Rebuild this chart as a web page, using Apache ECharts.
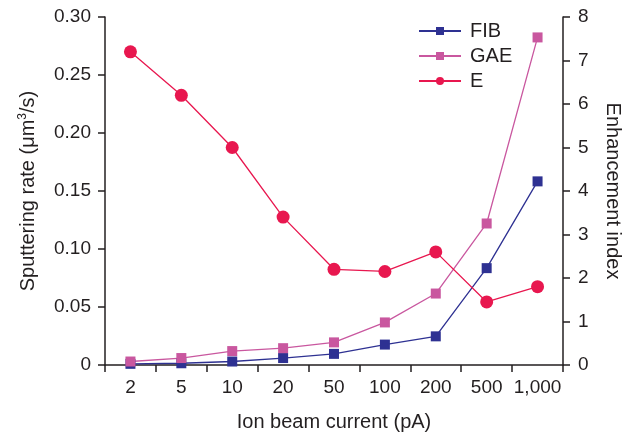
<!DOCTYPE html>
<html>
<head>
<meta charset="utf-8">
<script src="https://cdn.jsdelivr.net/npm/echarts@6/dist/echarts.min.js"></script>
<style>
  html, body { margin: 0; padding: 0; background: #fff; }
  #chart { width: 635px; height: 437px; }
</style>
</head>
<body>
<div id="chart"></div>
<script>
// 数据:离子束电流 vs 溅射速率 / 增强指数
var currents = ['2', '5', '10', '20', '50', '100', '200', '500', '1,000'];
var fibRate = [0.001, 0.0015, 0.003, 0.006, 0.0096, 0.0176, 0.0247, 0.0835, 0.1583];
var gaeRate = [0.003, 0.006, 0.012, 0.0145, 0.0195, 0.0367, 0.0616, 0.122, 0.2824];
var enhance = [7.2, 6.2, 5.0, 3.4, 2.2, 2.15, 2.6, 1.45, 1.8];

var INK = '#231f20';
var FONT = 'Liberation Sans, Arial, sans-serif';

var chart = echarts.init(document.getElementById('chart'));

function axisBase() {
  return {
    axisLine: { show: true, lineStyle: { color: INK, width: 1.5 } },
    axisTick: { show: true, inside: false, length: 7, lineStyle: { color: INK, width: 1.5 } },
    axisLabel: { color: INK, fontSize: 19, fontFamily: FONT },
    splitLine: { show: false },
    nameTextStyle: { color: INK, fontSize: 20, fontFamily: FONT }
  };
}

var xAx = axisBase();
xAx.type = 'category';
xAx.data = currents;
xAx.boundaryGap = true;
xAx.name = 'Ion beam current (pA)';
xAx.nameLocation = 'middle';
xAx.nameGap = 47;
xAx.axisLabel.margin = 13;
xAx.axisLabel.interval = 0;
xAx.axisTick.interval = 0;

var yLeft = axisBase();
yLeft.type = 'value';
yLeft.position = 'left';
yLeft.min = 0; yLeft.max = 0.3; yLeft.interval = 0.05;
yLeft.axisLabel.margin = 14;
yLeft.axisLabel.formatter = function (v) { return v === 0 ? '0' : v.toFixed(2); };
yLeft.name = '{a|Sputtering rate (μm}{s|3}{a|/s)}';
yLeft.nameLocation = 'middle';
yLeft.nameRotate = 90;
yLeft.nameGap = 66;
yLeft.nameTextStyle.rich = {
  a: { fontSize: 20, color: INK, fontFamily: FONT },
  s: { fontSize: 12, color: INK, fontFamily: FONT, padding: [0, 0, 10, 0] }
};

var yRight = axisBase();
yRight.type = 'value';
yRight.position = 'right';
yRight.min = 0; yRight.max = 8; yRight.interval = 1;
yRight.axisLabel.margin = 15;
yRight.name = 'Enhancement index';
yRight.nameLocation = 'middle';
yRight.nameRotate = -90;
yRight.nameGap = 40;

function lineSeries(name, data, color, symbol, size, axisIdx) {
  return {
    name: name,
    type: 'line',
    data: data,
    yAxisIndex: axisIdx,
    symbol: symbol,
    symbolSize: size,
    showAllSymbol: true,
    itemStyle: { color: color },
    lineStyle: { color: color, width: 1.3 },
    emphasis: { disabled: true },
    z: 3
  };
}

chart.setOption({
  animation: false,
  backgroundColor: '#fff',
  grid: { left: 105, right: 72, top: 17, bottom: 68 },
  legend: {
    orient: 'vertical',
    left: 413,
    top: 16,
    itemWidth: 42,
    itemHeight: 10,
    itemGap: 5,
    textStyle: { color: INK, fontSize: 20, fontFamily: FONT, padding: [0, 0, 0, 4] },
    data: ['FIB', 'GAE', 'E']
  },
  xAxis: xAx,
  yAxis: [yLeft, yRight],
  series: [
    lineSeries('FIB', fibRate, '#2e3192', 'rect', 10, 0),
    lineSeries('GAE', gaeRate, '#c9579f', 'rect', 10, 0),
    lineSeries('E', enhance, '#e8174f', 'circle', 13, 1)
  ]
});
</script>
</body>
</html>
